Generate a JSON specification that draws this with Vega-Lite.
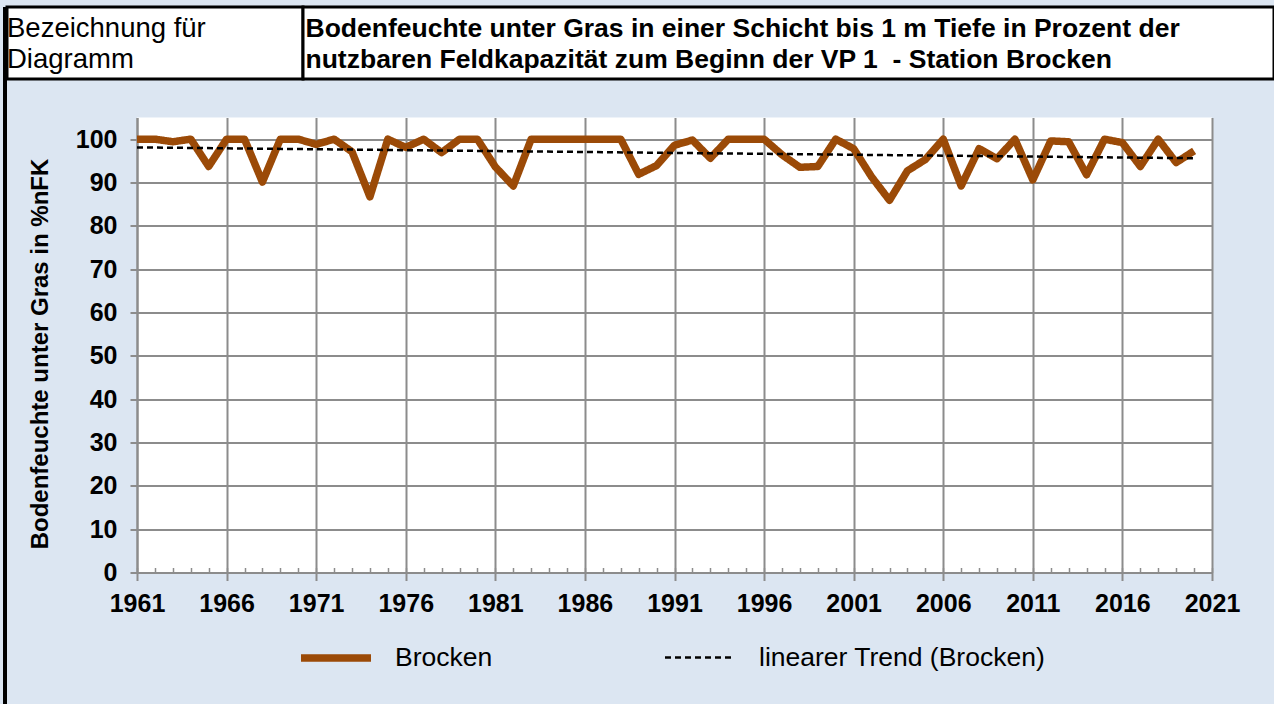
{
  "$schema": "https://vega.github.io/schema/vega-lite/v6.json",
  "background": "#dce6f2",
  "padding": {"left": 3, "top": 5, "right": 0, "bottom": 0},
  "spacing": -3,
  "config": {
    "view": {"stroke": null},
    "font": "Liberation Sans",
    "legend": {
      "orient": "none",
      "legendX": 294,
      "legendY": 612,
      "direction": "horizontal",
      "columns": 2,
      "labelFontSize": 26.5,
      "labelFont": "Liberation Sans",
      "labelColor": "black",
      "symbolType": "stroke",
      "symbolSize": 4900,
      "labelOffset": 20,
      "columnPadding": 167,
      "padding": 0,
      "labelLimit": 0
    }
  },
  "hconcat": [
    {
      "width": 4,
      "height": 699,
      "view": {"fill": "black", "stroke": null},
      "data": {"values": [{}]},
      "mark": {"type": "text"},
      "encoding": {"text": {"value": ""}}
    },
    {
      "spacing": 36.5,
      "vconcat": [
        {
          "bounds": "flush",
          "spacing": 0,
          "hconcat": [
            {
              "width": 296,
              "height": 72,
              "view": {"fill": "white", "stroke": "black", "strokeWidth": 3},
              "data": {"values": [{}]},
              "mark": {"type": "text", "align": "left", "baseline": "alphabetic", "fontSize": 27.5, "lineHeight": 30.5, "font": "Liberation Sans", "color": "black"},
              "encoding": {
                "text": {"value": ["Bezeichnung für", "Diagramm"]},
                "x": {"value": 0},
                "y": {"value": 30}
              }
            },
            {
              "width": 971,
              "height": 72,
              "view": {"fill": "white", "stroke": "black", "strokeWidth": 3},
              "data": {"values": [{}]},
              "mark": {"type": "text", "align": "left", "baseline": "alphabetic", "fontSize": 26.5, "fontWeight": "bold", "lineHeight": 30.5, "font": "Liberation Sans", "color": "black"},
              "encoding": {
                "text": {"value": ["Bodenfeuchte unter Gras in einer Schicht bis 1 m Tiefe in Prozent der", "nutzbaren Feldkapazität zum Beginn der VP 1\u00a0 - Station Brocken"]},
                "x": {"value": 2.5},
                "y": {"value": 30}
              }
            }
          ]
        },
        {
          "bounds": "flush",
          "spacing": 0,
          "hconcat": [
            {
              "width": 130,
              "height": 455,
              "data": {"values": [{}]},
              "mark": {"type": "text"},
              "encoding": {"text": {"value": ""}}
            },
            {
              "width": 1075,
              "height": 455,
              "view": {"fill": "white", "stroke": null},
              "data": {
                "values": [
                  {"year": 1961, "value": 100, "series": "Brocken"},
                  {"year": 1962, "value": 100, "series": "Brocken"},
                  {"year": 1963, "value": 99.4, "series": "Brocken"},
                  {"year": 1964, "value": 100, "series": "Brocken"},
                  {"year": 1965, "value": 93.7, "series": "Brocken"},
                  {"year": 1966, "value": 100, "series": "Brocken"},
                  {"year": 1967, "value": 100, "series": "Brocken"},
                  {"year": 1968, "value": 90.1, "series": "Brocken"},
                  {"year": 1969, "value": 100, "series": "Brocken"},
                  {"year": 1970, "value": 100, "series": "Brocken"},
                  {"year": 1971, "value": 98.8, "series": "Brocken"},
                  {"year": 1972, "value": 100, "series": "Brocken"},
                  {"year": 1973, "value": 97.1, "series": "Brocken"},
                  {"year": 1974, "value": 86.7, "series": "Brocken"},
                  {"year": 1975, "value": 100, "series": "Brocken"},
                  {"year": 1976, "value": 98.1, "series": "Brocken"},
                  {"year": 1977, "value": 100, "series": "Brocken"},
                  {"year": 1978, "value": 96.9, "series": "Brocken"},
                  {"year": 1979, "value": 100, "series": "Brocken"},
                  {"year": 1980, "value": 100, "series": "Brocken"},
                  {"year": 1981, "value": 93.6, "series": "Brocken"},
                  {"year": 1982, "value": 89.2, "series": "Brocken"},
                  {"year": 1983, "value": 100, "series": "Brocken"},
                  {"year": 1984, "value": 100, "series": "Brocken"},
                  {"year": 1985, "value": 100, "series": "Brocken"},
                  {"year": 1986, "value": 100, "series": "Brocken"},
                  {"year": 1987, "value": 100, "series": "Brocken"},
                  {"year": 1988, "value": 100, "series": "Brocken"},
                  {"year": 1989, "value": 91.9, "series": "Brocken"},
                  {"year": 1990, "value": 93.9, "series": "Brocken"},
                  {"year": 1991, "value": 98.6, "series": "Brocken"},
                  {"year": 1992, "value": 99.8, "series": "Brocken"},
                  {"year": 1993, "value": 95.6, "series": "Brocken"},
                  {"year": 1994, "value": 100, "series": "Brocken"},
                  {"year": 1995, "value": 100, "series": "Brocken"},
                  {"year": 1996, "value": 100, "series": "Brocken"},
                  {"year": 1997, "value": 96.4, "series": "Brocken"},
                  {"year": 1998, "value": 93.5, "series": "Brocken"},
                  {"year": 1999, "value": 93.7, "series": "Brocken"},
                  {"year": 2000, "value": 100, "series": "Brocken"},
                  {"year": 2001, "value": 97.8, "series": "Brocken"},
                  {"year": 2002, "value": 91.3, "series": "Brocken"},
                  {"year": 2003, "value": 85.9, "series": "Brocken"},
                  {"year": 2004, "value": 92.7, "series": "Brocken"},
                  {"year": 2005, "value": 95.3, "series": "Brocken"},
                  {"year": 2006, "value": 100, "series": "Brocken"},
                  {"year": 2007, "value": 89.2, "series": "Brocken"},
                  {"year": 2008, "value": 97.8, "series": "Brocken"},
                  {"year": 2009, "value": 95.5, "series": "Brocken"},
                  {"year": 2010, "value": 100, "series": "Brocken"},
                  {"year": 2011, "value": 90.6, "series": "Brocken"},
                  {"year": 2012, "value": 99.6, "series": "Brocken"},
                  {"year": 2013, "value": 99.4, "series": "Brocken"},
                  {"year": 2014, "value": 91.8, "series": "Brocken"},
                  {"year": 2015, "value": 100, "series": "Brocken"},
                  {"year": 2016, "value": 99.2, "series": "Brocken"},
                  {"year": 2017, "value": 93.7, "series": "Brocken"},
                  {"year": 2018, "value": 100, "series": "Brocken"},
                  {"year": 2019, "value": 94.6, "series": "Brocken"},
                  {"year": 2020, "value": 97.3, "series": "Brocken"},
                  {"year": 1961, "value": 98.1, "series": "linearer Trend (Brocken)"},
                  {"year": 2020, "value": 95.6, "series": "linearer Trend (Brocken)"}
                ]
              },
              "layer": [
                {
                  "mark": {"type": "line", "strokeJoin": "round"},
                  "encoding": {
                    "x": {
                      "field": "year", "type": "quantitative",
                      "scale": {"domain": [1961, 2021], "nice": false, "zero": false},
                      "axis": {
                        "orient": "bottom",
                        "values": [1961, 1966, 1971, 1976, 1981, 1986, 1991, 1996, 2001, 2006, 2011, 2016, 2021],
                        "format": "d",
                        "grid": true, "gridColor": "#8c8c8c", "gridWidth": 2,
                        "domainColor": "#8c8c8c", "domainWidth": 2,
                        "tickColor": "#8c8c8c", "tickWidth": 2, "tickSize": 8,
                        "labelFontSize": 25, "labelFontWeight": "bold", "labelColor": "black", "labelFont": "Liberation Sans",
                        "labelPadding": 11, "labelFlush": false, "labelOverlap": false,
                        "title": null
                      }
                    },
                    "y": {
                      "field": "value", "type": "quantitative",
                      "scale": {"domain": [0, 105], "nice": false},
                      "axis": {
                        "values": [0, 10, 20, 30, 40, 50, 60, 70, 80, 90, 100],
                        "grid": true, "gridColor": "#8c8c8c", "gridWidth": 2,
                        "domainColor": "#8c8c8c", "domainWidth": 2,
                        "tickColor": "#8c8c8c", "tickWidth": 2, "tickSize": 7,
                        "labelFontSize": 25, "labelFontWeight": "bold", "labelColor": "black", "labelFont": "Liberation Sans",
                        "labelPadding": 13,
                        "title": "Bodenfeuchte unter Gras in %nFK",
                        "titleFontSize": 24, "titleFontWeight": "bold", "titleColor": "black", "titleFont": "Liberation Sans",
                        "titlePadding": 23,
                        "titleY": 236
                      }
                    },
                    "color": {
                      "field": "series", "type": "nominal",
                      "scale": {"domain": ["Brocken", "linearer Trend (Brocken)"], "range": ["#9b4a07", "#000000"]},
                      "legend": {"title": null}
                    },
                    "strokeDash": {
                      "field": "series", "type": "nominal",
                      "scale": {"domain": ["Brocken", "linearer Trend (Brocken)"], "range": [[1, 0], [6, 4]]},
                      "legend": {"title": null}
                    },
                    "strokeWidth": {
                      "field": "series", "type": "nominal",
                      "scale": {"domain": ["Brocken", "linearer Trend (Brocken)"], "range": [7.5, 2.5]},
                      "legend": {"title": null}
                    }
                  }
                },
                {
                  "mark": {"type": "point", "opacity": 0},
                  "encoding": {
                    "x": {
                      "field": "year", "type": "quantitative",
                      "axis": {
                        "orient": "bottom",
                        "values": [1961, 1962, 1963, 1964, 1965, 1966, 1967, 1968, 1969, 1970, 1971, 1972, 1973, 1974, 1975, 1976, 1977, 1978, 1979, 1980, 1981, 1982, 1983, 1984, 1985, 1986, 1987, 1988, 1989, 1990, 1991, 1992, 1993, 1994, 1995, 1996, 1997, 1998, 1999, 2000, 2001, 2002, 2003, 2004, 2005, 2006, 2007, 2008, 2009, 2010, 2011, 2012, 2013, 2014, 2015, 2016, 2017, 2018, 2019, 2020, 2021],
                        "labels": false, "grid": false, "domain": false,
                        "ticks": true, "tickSize": -5, "tickColor": "#8c8c8c", "tickWidth": 1.5,
                        "title": null
                      }
                    }
                  }
                }
              ],
              "resolve": {"axis": {"x": "independent"}}
            }
          ]
        }
      ]
    },
    {
      "width": 3,
      "height": 699,
      "view": {"fill": "black", "stroke": null},
      "data": {"values": [{}]},
      "mark": {"type": "text"},
      "encoding": {"text": {"value": ""}}
    }
  ]
}
